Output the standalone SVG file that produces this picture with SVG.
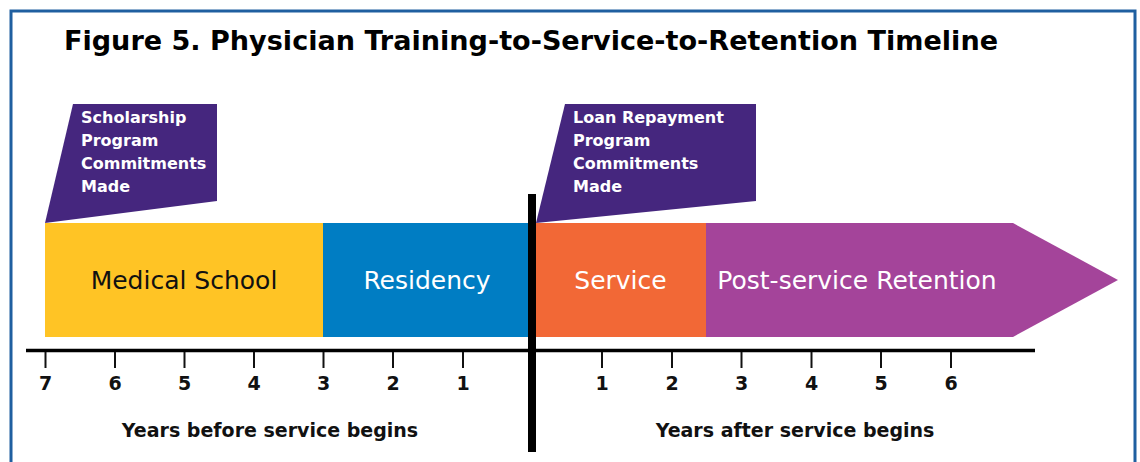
<svg xmlns="http://www.w3.org/2000/svg" width="1140" height="462" viewBox="0 0 1140 462">
  <style>
    .title { font-family: "DejaVu Sans", Verdana, sans-serif; font-weight: bold; font-size: 26px; fill: #000; }
    .flagtxt { font-family: "DejaVu Sans", Verdana, sans-serif; font-weight: bold; font-size: 16px; fill: #fff; }
    .bartxt { font-family: "DejaVu Sans", Verdana, sans-serif; font-size: 25px; text-anchor: middle; }
    .num { font-family: "DejaVu Sans", Verdana, sans-serif; font-weight: bold; font-size: 19px; text-anchor: middle; fill: #111; }
    .axislbl { font-family: "DejaVu Sans", Verdana, sans-serif; font-weight: bold; font-size: 19px; text-anchor: middle; fill: #111; }
    .flag { fill: #45267E; }
    .tick { stroke: #111; stroke-width: 2; }
  </style>

  <rect width="1140" height="462" fill="#fff"/>

  <!-- outer frame, open at the bottom -->
  <path d="M11,462 V11 H1135 V462" fill="none" stroke="#1F5FA0" stroke-width="3"/>

  <text class="title" x="64" y="50" textLength="934" lengthAdjust="spacingAndGlyphs">Figure 5. Physician Training-to-Service-to-Retention Timeline</text>

  <!-- timeline bars -->
  <g id="medical-school">
    <rect x="45" y="223" width="278" height="114" fill="#FFC425"/>
    <text class="bartxt" x="184" y="289" fill="#111">Medical School</text>
  </g>
  <g id="residency">
    <rect x="323" y="223" width="208" height="114" fill="#007DC3"/>
    <text class="bartxt" x="427" y="289" fill="#fff">Residency</text>
  </g>
  <g id="service">
    <rect x="531" y="223" width="175" height="114" fill="#F26836"/>
    <text class="bartxt" x="620.5" y="289" fill="#fff">Service</text>
  </g>
  <g id="post-service-retention">
    <polygon points="706,223 1013,223 1118,280 1013,337 706,337" fill="#A4449A"/>
    <text class="bartxt" x="857" y="289" fill="#fff">Post-service Retention</text>
  </g>

  <!-- commitment flags -->
  <g id="scholarship-flag">
    <polygon class="flag" points="73,104 217,104 217,201 45,223"/>
    <text class="flagtxt" x="81" y="123">Scholarship</text>
    <text class="flagtxt" x="81" y="146">Program</text>
    <text class="flagtxt" x="81" y="169">Commitments</text>
    <text class="flagtxt" x="81" y="192">Made</text>
  </g>
  <g id="loan-repayment-flag">
    <polygon class="flag" points="565,104 756,104 756,201 536,223"/>
    <text class="flagtxt" x="573" y="123">Loan Repayment</text>
    <text class="flagtxt" x="573" y="146">Program</text>
    <text class="flagtxt" x="573" y="169">Commitments</text>
    <text class="flagtxt" x="573" y="192">Made</text>
  </g>

  <!-- year axis -->
  <g id="axis">
    <line x1="26" y1="350.5" x2="1035" y2="350.5" stroke="#000" stroke-width="3.5"/>
    <g class="ticks">
      <line class="tick" x1="45.5" y1="352" x2="45.5" y2="368"/>
      <line class="tick" x1="115" y1="352" x2="115" y2="368"/>
      <line class="tick" x1="184.5" y1="352" x2="184.5" y2="368"/>
      <line class="tick" x1="254" y1="352" x2="254" y2="368"/>
      <line class="tick" x1="323.5" y1="352" x2="323.5" y2="368"/>
      <line class="tick" x1="393" y1="352" x2="393" y2="368"/>
      <line class="tick" x1="463" y1="352" x2="463" y2="368"/>
      <line class="tick" x1="602" y1="352" x2="602" y2="368"/>
      <line class="tick" x1="672" y1="352" x2="672" y2="368"/>
      <line class="tick" x1="741.5" y1="352" x2="741.5" y2="368"/>
      <line class="tick" x1="811.5" y1="352" x2="811.5" y2="368"/>
      <line class="tick" x1="881" y1="352" x2="881" y2="368"/>
      <line class="tick" x1="951" y1="352" x2="951" y2="368"/>
    </g>
    <text class="num" x="45.5" y="390">7</text>
    <text class="num" x="115" y="390">6</text>
    <text class="num" x="184.5" y="390">5</text>
    <text class="num" x="254" y="390">4</text>
    <text class="num" x="323.5" y="390">3</text>
    <text class="num" x="393" y="390">2</text>
    <text class="num" x="463" y="390">1</text>
    <text class="num" x="602" y="390">1</text>
    <text class="num" x="672" y="390">2</text>
    <text class="num" x="741.5" y="390">3</text>
    <text class="num" x="811.5" y="390">4</text>
    <text class="num" x="881" y="390">5</text>
    <text class="num" x="951" y="390">6</text>
    <text class="axislbl" x="270" y="437">Years before service begins</text>
    <text class="axislbl" x="795" y="437">Years after service begins</text>
  </g>

  <!-- service start marker -->
  <line x1="532" y1="194" x2="532" y2="452" stroke="#000" stroke-width="8"/>
</svg>
